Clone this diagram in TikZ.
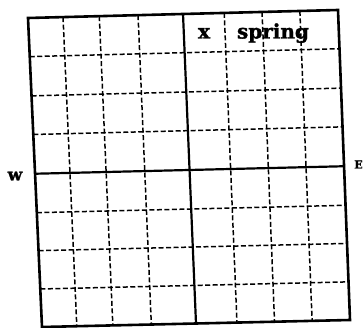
\documentclass[tikz,border=0pt]{standalone}
\usepackage{fontspec}
\setmainfont{DejaVu Serif}[BoldFeatures={FakeBold=1.5}]
\usetikzlibrary{calc}
\tikzset{
  gridline/.style={line width=1.5pt, dash pattern=on 5pt off 2.5pt},
  axisline/.style={line width=2.2pt},
  frameline/.style={line width=2.6pt, line join=miter},
  lbl/.style={font=\bfseries, inner sep=0pt},
}
\begin{document}
\begin{tikzpicture}[x=1pt,y=-1pt]
\useasboundingbox (0,0) rectangle (364,328);
\coordinate (TL) at (28,18);
\coordinate (TR) at (338,10);
\coordinate (BR) at (350,320);
\coordinate (BL) at (42,327);
% dashed vertical grid lines
\foreach \t in {0.113,0.23,0.355,0.633,0.755,0.877}{
  \draw[gridline] ($(TL)!\t!(TR)$) -- ($(BL)!\t!(BR)$);
}
% dashed horizontal grid lines
\foreach \t in {0.125,0.252,0.377,0.63,0.753,0.877}{
  \draw[gridline] ($(TL)!\t!(BL)$) -- ($(TR)!\t!(BR)$);
}
% solid midlines
\coordinate (Ntop) at ($(TL)!0.5!(TR)$);
\coordinate (Sbot) at ($(BL)!0.5!(BR)$);
\coordinate (Wmid) at ($(TL)!0.504!(BL)$);
\coordinate (Emid) at ($(TR)!0.504!(BR)$);
\draw[axisline] (Ntop) -- (Sbot);
\draw[axisline] (Wmid) -- (Emid);
% frame
\draw[frameline] (TL) -- (TR) -- (BR) -- (BL) -- cycle;
% labels
\node[lbl, font=\bfseries\fontsize{20}{20}\selectfont, anchor=base] (x) at (204,38.5) {x};
\node[lbl, font=\bfseries\fontsize{20}{20}\selectfont, anchor=base] (spring) at (273,38.5) {spring};
\node[lbl, font=\bfseries\fontsize{17}{17}\selectfont, anchor=base] (w) at (15,180.5) {w};
\node[lbl, font=\bfseries\fontsize{11}{11}\selectfont, anchor=base] (e) at (358.5,168.5) {E};
\end{tikzpicture}
\end{document}
